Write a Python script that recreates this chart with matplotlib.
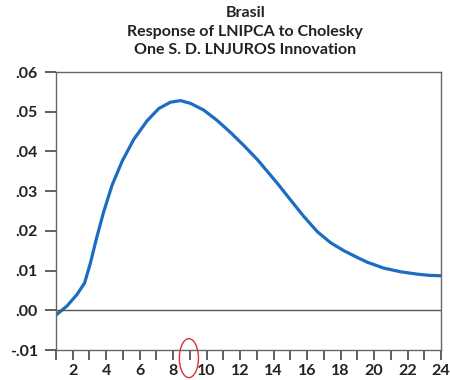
import matplotlib
matplotlib.use("Agg")
import matplotlib.pyplot as plt
from matplotlib.patches import Ellipse
from matplotlib.ticker import FuncFormatter

plt.rcParams['font.family'] = ['Lato', 'DejaVu Sans']

# impulse response at (period, value) positions
horizon = [1.0, 1.66, 2.26, 2.71, 3.05, 3.45, 3.85, 4.35, 4.95, 5.64,
           6.44, 7.14, 7.84, 8.44, 9.04, 9.83, 10.63, 11.42, 12.22, 13.02,
           13.42, 14.22, 15.01, 15.81, 16.61, 17.41, 18.2, 19.0, 19.6, 20.6,
           21.59, 22.59, 23.3, 24.0]
response = [-0.0012, 0.0011, 0.0040, 0.0069, 0.0118, 0.0186, 0.0248, 0.0315,
            0.0375, 0.0430, 0.0477, 0.0508, 0.0524, 0.0528, 0.0521, 0.0504,
            0.0478, 0.0448, 0.0415, 0.0380, 0.0360, 0.0320, 0.0278, 0.0236,
            0.0198, 0.0170, 0.0150, 0.0133, 0.0121, 0.0106, 0.0097, 0.0091,
            0.0088, 0.0087]
periods = list(range(1, 25))
y_ticks = [-0.01, 0.0, 0.01, 0.02, 0.03, 0.04, 0.05, 0.06]
x_labels = list(range(2, 25, 2))
title_lines = ["Brasil", "Response of LNIPCA to Cholesky",
               "One S. D. LNJUROS Innovation"]

fig = plt.figure(figsize=(4.5, 3.8), dpi=100)
ax = fig.add_axes([0.1244, 0.0789, 0.8556, 0.7316])

ax.plot(horizon, response, color="#1c6cc2", lw=2.3, solid_joinstyle="round",
        solid_capstyle="round")
ax.axhline(0, color="#555555", lw=1.0)

ax.set_xlim(1, 24)
ax.set_ylim(-0.01, 0.06)

ax.set_yticks(y_ticks)
ax.yaxis.set_major_formatter(FuncFormatter(
    lambda v, p: ("-" if v < -1e-9 else "") + ("%.2f" % abs(v))[1:]))
ax.set_xticks(periods, minor=True)
ax.set_xticks(x_labels)
ax.tick_params(axis="x", which="both", direction="out", length=7,
               width=1.2, color="#444444", labelsize=11.5, pad=3)
ax.tick_params(axis="y", direction="out", length=8, width=1.2,
               color="#444444", labelsize=11.5, pad=5)
for lab in ax.get_xticklabels() + ax.get_yticklabels():
    lab.set_fontweight("bold")
    lab.set_color("#222222")

for s in ax.spines.values():
    s.set_color("#666666")
    s.set_linewidth(1.0)

for line, yy in zip(title_lines, [0.965, 0.917, 0.869]):
    fig.text(0.545, yy, line, ha="center", va="center",
             fontsize=11.5, fontweight="bold", color="#222222")

# red marker circle drawn below the axis
ax.add_patch(Ellipse((8.94, -0.01205), 1.14, 0.0098, fill=False,
                     edgecolor="#e03030", lw=1.0, clip_on=False))

fig.savefig("out.png", dpi=100)
